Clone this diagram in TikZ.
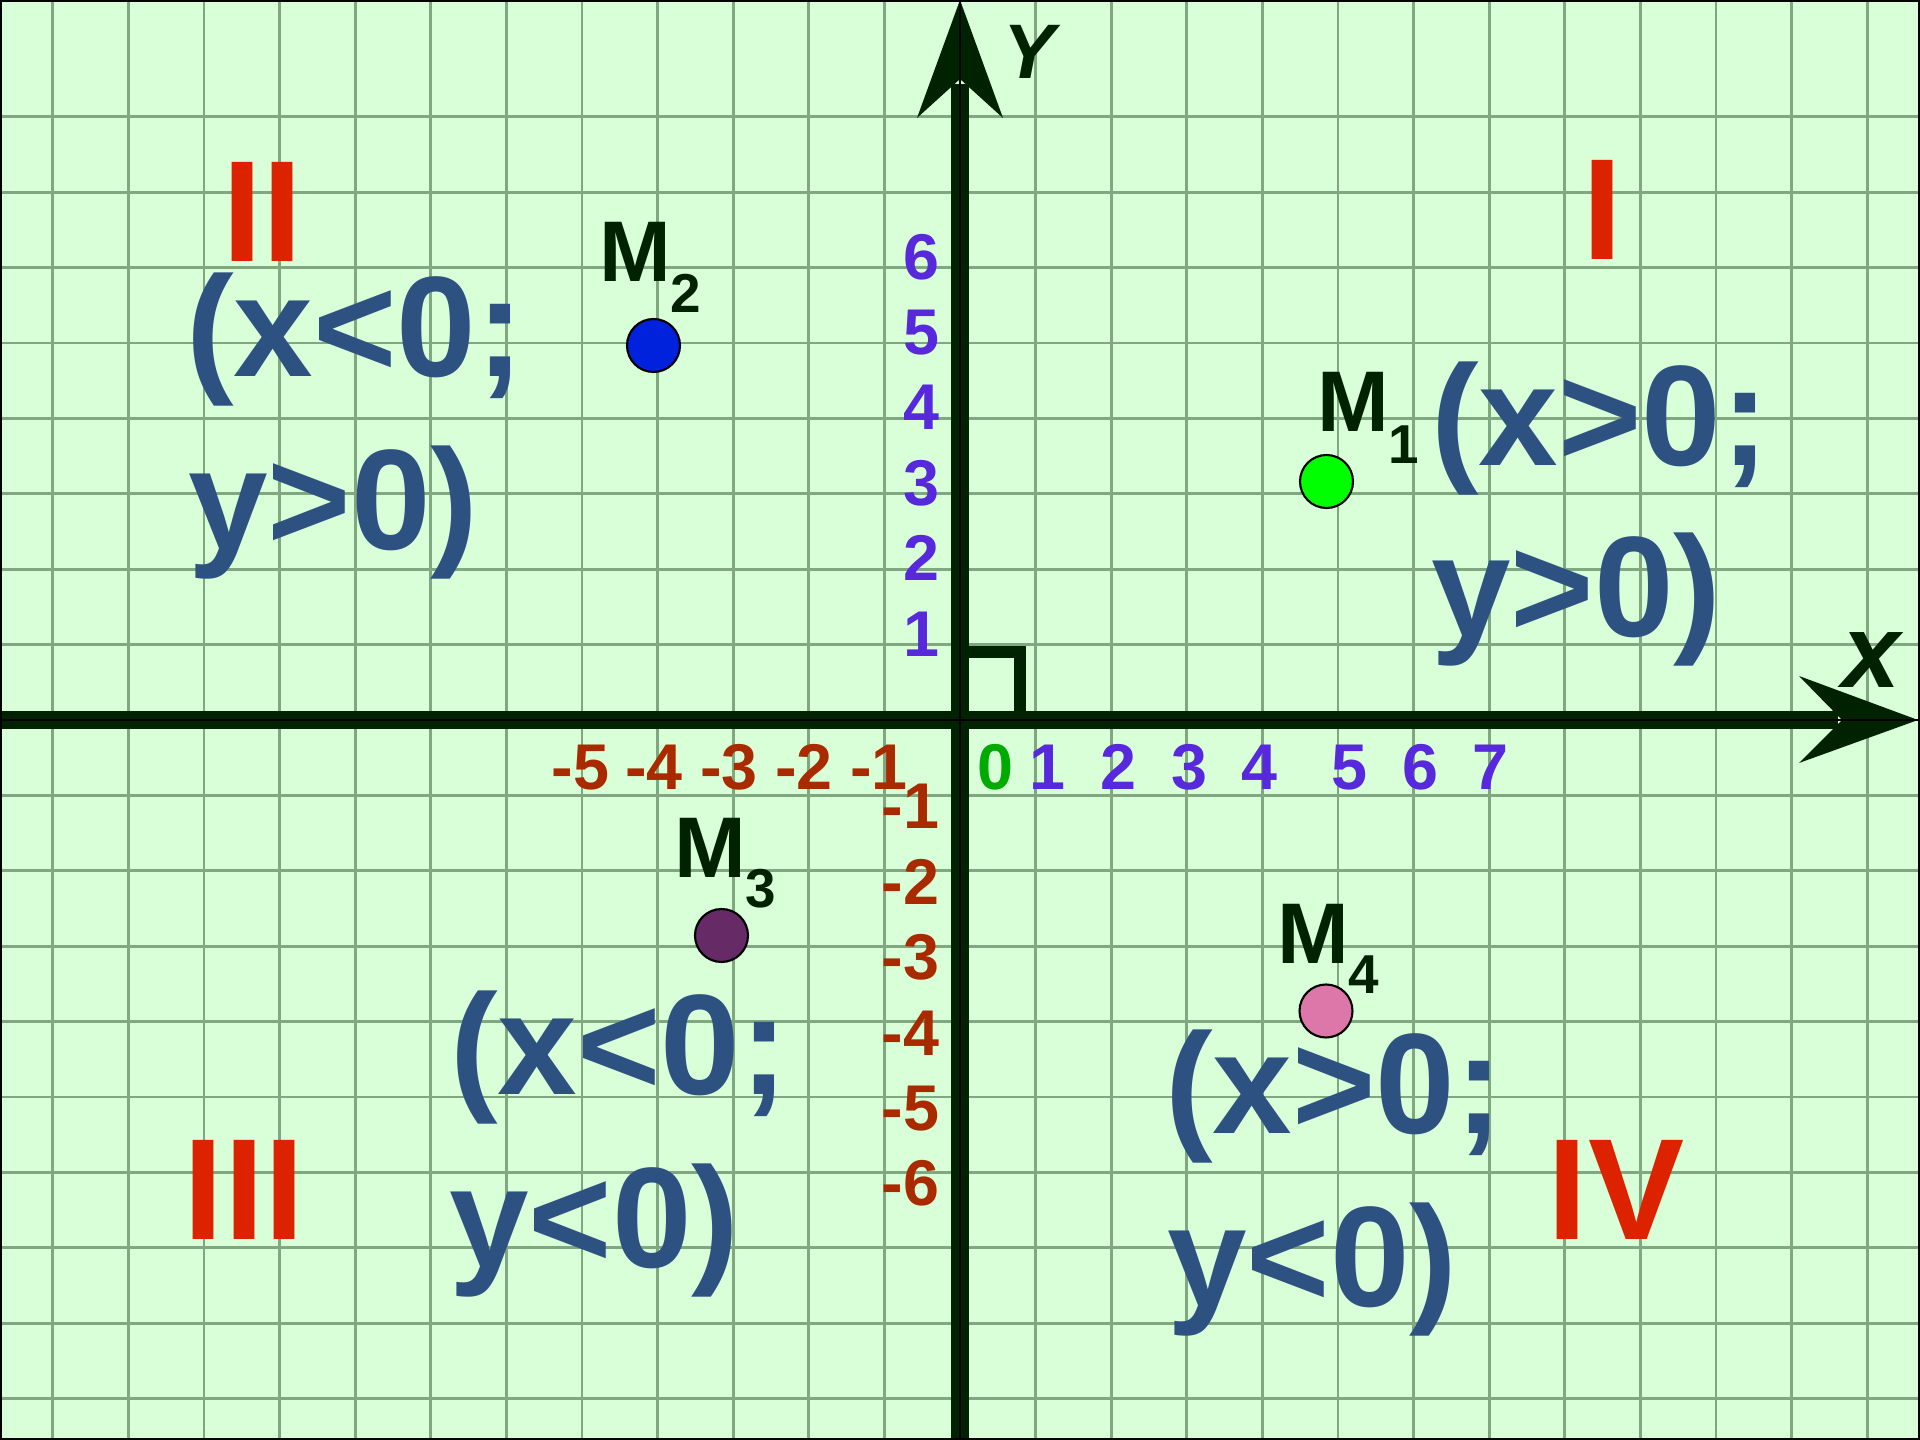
\documentclass[tikz,border=0pt]{standalone}
\usepackage{fontspec}
\setmainfont{Liberation Sans}
\definecolor{bg}{RGB}{216,255,216}
\definecolor{gridc}{RGB}{128,168,128}
\definecolor{axisc}{RGB}{0,34,0}
\definecolor{romanc}{RGB}{221,34,0}
\definecolor{negc}{RGB}{170,42,0}
\definecolor{posc}{RGB}{87,40,220}
\definecolor{zeroc}{RGB}{0,170,0}
\definecolor{condc}{RGB}{45,82,130}
\definecolor{mlabc}{RGB}{0,34,0}
\definecolor{pone}{RGB}{0,255,0}
\definecolor{ptwo}{RGB}{0,34,221}
\definecolor{pthree}{RGB}{102,42,102}
\definecolor{pfour}{RGB}{221,119,170}
\newcommand\myfs[1]{\fontsize{#1}{#1}\selectfont}
\begin{document}
\begin{tikzpicture}[x=0.1mm,y=-0.1mm,
  every node/.style={inner sep=0pt, outer sep=0pt},
  roman/.style={text=romanc, font=\bfseries\myfs{41pt}, anchor=base},
  cond/.style={text=condc, font=\bfseries\myfs{40.7pt}, anchor=base west},
  poslab/.style={text=posc, font=\bfseries\myfs{18.4pt}},
  neglab/.style={text=negc, font=\bfseries\myfs{18.4pt}},
  zerolab/.style={text=zeroc, font=\bfseries\myfs{18.4pt}},
  mlab/.style={text=mlabc, font=\bfseries\myfs{24.5pt}, anchor=base west},
  pointdot/.style={circle, draw=black, line width=0.6pt, minimum size=5.3mm},
  gridline/.style={gridc, line width=0.75pt},
  axisline/.style={axisc, line width=5.4pt},
  centerline/.style={black, line width=0.5pt}
]
\useasboundingbox (0,0) rectangle (1920,1440);
\fill[bg] (0,0) rectangle (1920,1440);
% grid
\foreach \k in {-12,...,12} \draw[gridline] ({960+75.6*\k},0) -- ({960+75.6*\k},1440);
\foreach \j in {-8,...,9} \draw[gridline] (0,{720+75.4*\j}) -- (1920,{720+75.4*\j});
% right-angle square
\draw[axisc, line width=3.6pt] (962,652) rectangle (1020,718);
% axes
\draw[axisline] (0,720) -- (1838,720);
\draw[axisline] (960,1440) -- (960,84);
\fill[axisc] (1918,720) -- (1799,763) -- (1842,720) -- (1799,676) -- cycle;
\fill[axisc] (960,0) -- (1003,118) -- (960,79) -- (917,118) -- cycle;
\draw[centerline] (0,720) -- (1918,720);
\draw[centerline] (960,1440) -- (960,0);
% border
\draw[black, line width=0.6pt] (1,1) rectangle (1919,1439);
% axis names
\node[text=axisc, font=\bfseries\itshape\myfs{22pt}] (ylab) at (1029,52) {Y};
\node[text=axisc, font=\bfseries\itshape\myfs{29.6pt}] (xlab) at (1871,660) {x};
% x labels
\node[zerolab, anchor=base] (xl0) at (995,790) {0};
\foreach \v/\xx in {1/1047,2/1118,3/1189,4/1259,5/1349,6/1420,7/1490}
  \node[poslab, anchor=base] (xl\v) at (\xx,790) {\v};
\foreach \v/\xx in {5/580.7,4/654,3/729,2/804,1/879}
  \node[neglab, anchor=base] (xn\v) at (\xx,790) {-\v};
% y labels
\foreach \v in {1,...,6}
  \node[poslab, anchor=base east] (yl\v) at (939,{731.5-75.4*\v}) {\v};
\foreach \v in {1,...,6}
  \node[neglab, anchor=base east] (yn\v) at (939,{753.5+75.4*\v}) {-\v};
% quadrant numerals
\node[roman] (q1) at (1603,260) {I};
\node[roman] (q2) at (262.5,262) {II};
\node[roman] (q3) at (244,1240) {III};
\node[roman] (q4) at (1616,1240) {IV};
% conditions
\node[cond] (c1a) at (1431,466) {(x>0;};
\node[cond] (c1b) at (1431,637) {y>0)};
\node[cond] (c2a) at (186,377) {(x<0;};
\node[cond] (c2b) at (188,550) {y>0)};
\node[cond] (c3a) at (450,1095) {(x<0;};
\node[cond] (c3b) at (449,1267) {y<0)};
\node[cond] (c4a) at (1165,1134) {(x>0;};
\node[cond] (c4b) at (1167,1306) {y<0)};
% points
\node[pointdot, fill=pone] (p1) at (1326.5,481.5) {};
\node[pointdot, fill=ptwo] (p2) at (653.5,345.5) {};
\node[pointdot, fill=pthree] (p3) at (721.5,935.5) {};
\node[pointdot, fill=pfour] (p4) at (1326,1011) {};
% point labels
\node[mlab] (m1) at (1317,432) {M\raisebox{-9pt}{\myfs{15.6pt}1}};
\node[mlab] (m2) at (599,282) {M\raisebox{-8.8pt}{\myfs{15.6pt}2}};
\node[mlab] (m3) at (674,878) {M\raisebox{-8.5pt}{\myfs{15.6pt}3}};
\node[mlab] (m4) at (1277,964) {M\raisebox{-8.5pt}{\myfs{15.6pt}4}};
\end{tikzpicture}
\end{document}
